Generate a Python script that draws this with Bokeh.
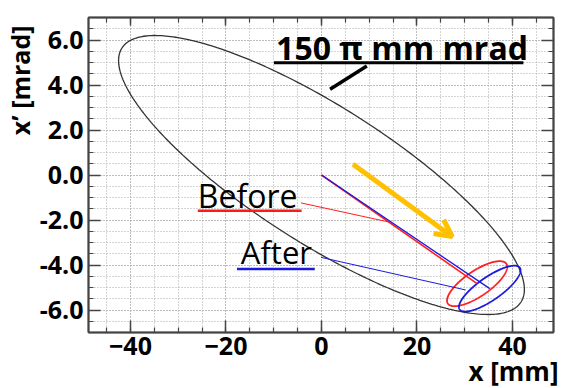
import numpy as np
from bokeh.plotting import figure
from bokeh.models import (LinearAxis, SingleIntervalTicker, NumeralTickFormatter,
                          Label, Arrow, OpenHead, Range1d, Title)
from bokeh.embed import file_html
from bokeh.resources import INLINE

# ---------------- data ----------------
# phase-space ellipses: centre, half-extent in x and x', and correlation (cos of phase)
ell_names = ["acceptance", "before", "after"]
ell_cx = [0.0, 32.6, 35.25]
ell_cy = [0.0, -4.83, -5.05]
ell_xmax = [42.5, 6.3, 6.45]
ell_ymax = [6.2, 1.0, 1.02]
ell_corr = [-0.82, 0.75, 0.80]
ell_colors = ["#333333", "#ff2020", "#1a1adf"]
ell_widths = [1.3, 1.8, 1.8]

# beam centroid paths
before_path_x = [0.0, 32.6]
before_path_y = [0.0, -4.83]
after_path_x = [0.0, 35.25]
after_path_y = [0.0, -5.05]

# annotation pointers / underlines
before_ptr_x = [-4.3, 14.1]
before_ptr_y = [-1.24, -2.09]
after_ptr_x = [-0.1, 30.2]
after_ptr_y = [-3.66, -5.11]
acc_ptr_x = [1.8, 9.5]
acc_ptr_y = [3.81, 4.84]
acc_ul_x = [-9.96, 42.3]
acc_ul_y = [4.99, 4.99]
before_ul_x = [-25.9, -4.16]
before_ul_y = [-1.59, -1.59]
after_ul_x = [-17.7, -1.4]
after_ul_y = [-4.18, -4.18]
arrow_start = (6.6, 0.48)
arrow_end = (27.4, -2.74)

x_major = 20
y_major = 2
x_lim = (-48.8, 48.6)
y_lim = (-7.0, 7.0)
x_title = "x [mm]"
y_title = "x’ [mrad]"

# ---------------- figure ----------------
p = figure(frame_width=465, frame_height=315, output_backend="svg",
           toolbar_location=None, x_range=Range1d(*x_lim), y_range=Range1d(*y_lim),
           x_axis_location=None, y_axis_location=None,
           min_border_left=87, min_border_right=11, min_border_top=17,
           min_border_bottom=56)
p.background_fill_color = "white"
p.border_fill_color = "white"
p.outline_line_color = "#444444"
p.outline_line_width = 1.5

FONT = "Open Sans"
xt = SingleIntervalTicker(interval=x_major, num_minor_ticks=4)
yt = SingleIntervalTicker(interval=y_major, num_minor_ticks=4)


def style_axis(ax, labels):
    ax.axis_line_color = "#444444"
    ax.axis_line_width = 2
    ax.major_tick_line_color = "#444444"
    ax.minor_tick_line_color = "#444444"
    ax.major_tick_line_width = 1.5
    ax.minor_tick_line_width = 1.2
    ax.major_tick_in = 12
    ax.major_tick_out = 0
    ax.minor_tick_in = 5
    ax.minor_tick_out = 0
    if labels:
        ax.major_label_text_font = FONT
        ax.major_label_text_font_style = "bold"
        ax.major_label_text_font_size = "25px"
        ax.major_label_text_color = "black"
    else:
        ax.major_label_text_font_size = "0px"
        ax.major_label_standoff = 0


# the x title sits at the right end of the axis: it is centred on the axis and
# pushed right by leading non-breaking spaces
xb = LinearAxis(ticker=xt, axis_label="\u00a0" * 57 + x_title)
style_axis(xb, True)
xb.major_label_standoff = 4
xb.axis_label_text_font = FONT
xb.axis_label_text_font_style = "bold"
xb.axis_label_text_font_size = "26px"
xb.axis_label_text_color = "black"
xb.axis_label_standoff = -5
p.add_layout(xb, "below")

yl = LinearAxis(ticker=yt, formatter=NumeralTickFormatter(format="0.0"))
style_axis(yl, True)
yl.major_label_standoff = 5
p.add_layout(yl, "left")

xa = LinearAxis(ticker=xt)
style_axis(xa, False)
xa.major_tick_in = 8
p.add_layout(xa, "above")

yr = LinearAxis(ticker=yt)
style_axis(yr, False)
p.add_layout(yr, "right")

p.xgrid.ticker = xt
p.ygrid.ticker = yt
for g in (p.xgrid, p.ygrid):
    g.grid_line_color = "#a8a8a8"
    g.grid_line_dash = "1 2"
    g.grid_line_width = 1
    g.minor_grid_line_color = "#a8a8a8"
    g.minor_grid_line_dash = "1 2"
    g.minor_grid_line_width = 1

# ellipses
t = np.linspace(0, 2 * np.pi, 361)
for cx, cy, a, b, c, col, w in zip(ell_cx, ell_cy, ell_xmax, ell_ymax, ell_corr,
                                    ell_colors, ell_widths):
    phi = np.arccos(c)
    p.line(cx + a * np.cos(t), cy + b * np.cos(t + phi), line_color=col, line_width=w)

# centroid paths
p.line(before_path_x, before_path_y, line_color="#ff2020", line_width=1.6)
p.line(after_path_x, after_path_y, line_color="#1a1adf", line_width=1.3)

# pointers
p.line(before_ptr_x, before_ptr_y, line_color="#ff2020", line_width=1)
p.line(after_ptr_x, after_ptr_y, line_color="#1a1adf", line_width=1)
p.line(acc_ptr_x, acc_ptr_y, line_color="black", line_width=3.5)

# underlines
p.line(acc_ul_x, acc_ul_y, line_color="black", line_width=3)
p.line(before_ul_x, before_ul_y, line_color="#ff1a1a", line_width=2.5)
p.line(after_ul_x, after_ul_y, line_color="#1a1adf", line_width=2.5)

# orange arrow
p.add_layout(Arrow(end=OpenHead(size=17, line_color="#FFC000", line_width=5),
                   x_start=arrow_start[0], y_start=arrow_start[1],
                   x_end=arrow_end[0], y_end=arrow_end[1],
                   line_color="#FFC000", line_width=5))

# texts (anchored at their vertical middle)
p.add_layout(Label(x=-9.5, y=5.68, text="150 π mm mrad", text_font=FONT,
                   text_font_style="bold", text_font_size="32px",
                   text_color="black", text_baseline="middle"))
p.add_layout(Label(x=-25.9, y=-0.90, text="Before", text_font=FONT,
                   text_font_size="32px", text_color="black",
                   text_baseline="middle"))
p.add_layout(Label(x=-16.9, y=-3.44, text="After", text_font=FONT,
                   text_font_size="31px", text_color="black",
                   text_baseline="middle"))

# y axis title
p.add_layout(Title(text=y_title, align="right", text_font=FONT,
                   text_font_style="bold", text_font_size="25px",
                   text_color="black", standoff=0, offset=8), "left")

open("out.html", "w").write(file_html(p, INLINE))
